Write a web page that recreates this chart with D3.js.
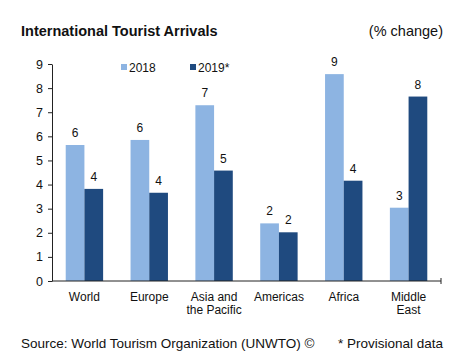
<!DOCTYPE html>
<html><head><meta charset="utf-8">
<script src="https://cdn.jsdelivr.net/npm/d3@7"></script>
<style>html,body{margin:0;padding:0;background:#fff;}svg{display:block;font-family:Arial,"Liberation Sans",sans-serif;}</style>
</head><body>
<svg id="c" width="462" height="364"></svg>
<script>
const categories = [["World"],["Europe"],["Asia and","the Pacific"],["Americas"],["Africa"],["Middle","East"]];
const series2018 = [5.64, 5.85, 7.29, 2.39, 8.58, 3.04];
const series2019 = [3.82, 3.66, 4.58, 2.02, 4.16, 7.65];
const labels2018 = ["6","6","7","2","9","3"];
const labels2019 = ["4","4","5","2","4","8"];
const seriesNames = ["2018","2019*"];
const yTicks = [0,1,2,3,4,5,6,7,8,9];
const colors = ["#8db4e2","#1f4a7f"];

const svg = d3.select("#c");
const L=52, R=441, T=64, B=281;
const x = d3.scaleBand().domain(d3.range(categories.length)).range([L,R]).paddingInner(0).paddingOuter(0);
const y = d3.scaleLinear().domain([0,9]).range([B,T]);
const bw = 18.7;

svg.append("text").attr("x",21).attr("y",35.5).attr("font-size",14.5).attr("font-weight","bold").attr("fill","#111").text("International Tourist Arrivals");
svg.append("text").attr("x",443).attr("y",35.5).attr("text-anchor","end").attr("font-size",14.5).attr("fill","#111").text("(% change)");

// y axis
const ya = svg.append("g").attr("transform",`translate(${L},0)`).call(d3.axisLeft(y).tickValues(yTicks).tickSize(4).tickPadding(5).tickSizeOuter(0));
ya.select(".domain").attr("stroke","#222");
ya.selectAll(".tick line").attr("stroke","#222");
ya.selectAll("text").attr("font-size",12.5).attr("fill","#111").attr("font-family","Arial,'Liberation Sans',sans-serif");

// bars
const data = categories.map((c,i)=>({i,a:series2018[i],b:series2019[i],la:labels2018[i],lb:labels2019[i]}));
const g = svg.append("g");
data.forEach(d=>{
  const cx = x(d.i)+x.bandwidth()/2;
  g.append("rect").attr("x",cx-bw).attr("width",bw).attr("y",y(d.a)).attr("height",B-y(d.a)).attr("fill",colors[0]);
  g.append("rect").attr("x",cx).attr("width",bw).attr("y",y(d.b)).attr("height",B-y(d.b)).attr("fill",colors[1]);
  g.append("text").attr("x",cx-bw/2).attr("y",y(d.a)-8).attr("text-anchor","middle").attr("font-size",12).attr("fill","#111").text(d.la);
  g.append("text").attr("x",cx+bw/2).attr("y",y(d.b)-8).attr("text-anchor","middle").attr("font-size",12).attr("fill","#111").text(d.lb);
});

// x axis
const xa = svg.append("g").attr("transform",`translate(0,${B})`);
xa.append("line").attr("x1",L).attr("x2",R).attr("stroke","#222");
xa.append("line").attr("x1",R).attr("x2",R).attr("y1",-3).attr("y2",3).attr("stroke","#222");
categories.forEach((c,i)=>{
  const t = xa.append("text").attr("x",x(i)+x.bandwidth()/2).attr("y",19.5).attr("text-anchor","middle").attr("font-size",12).attr("fill","#111");
  c.forEach((line,k)=>t.append("tspan").attr("x",x(i)+x.bandwidth()/2).attr("dy",k===0?0:13).text(line));
});

// legend
const lg = svg.append("g");
[[121,0],[190,1]].forEach(([lx,k])=>{
  lg.append("rect").attr("x",lx).attr("y",64).attr("width",6).attr("height",6).attr("fill",colors[k]);
  lg.append("text").attr("x",lx+8).attr("y",71.5).attr("font-size",12).attr("fill","#111").text(seriesNames[k]);
});

svg.append("text").attr("x",21).attr("y",347.5).attr("font-size",13.5).attr("fill","#111").text("Source: World Tourism Organization (UNWTO) ©");
svg.append("text").attr("x",443).attr("y",347.5).attr("text-anchor","end").attr("font-size",13.5).attr("fill","#111").text("* Provisional data");
</script>
</body></html>
